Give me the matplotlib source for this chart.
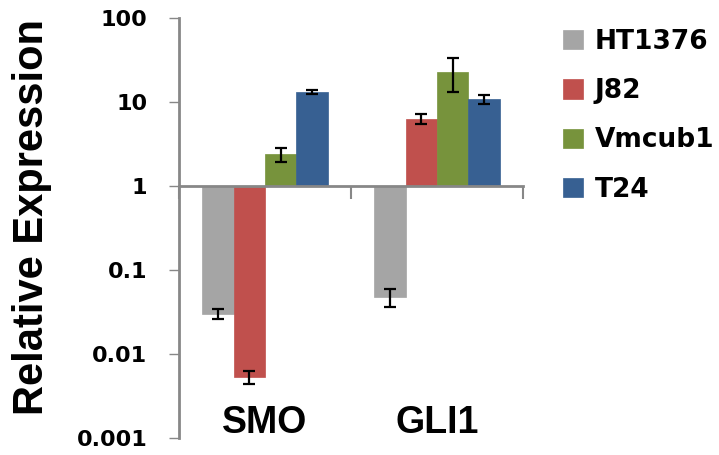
import numpy as np
import matplotlib
matplotlib.use('Agg')
import matplotlib.pyplot as plt
from matplotlib.transforms import blended_transform_factory
from matplotlib.ticker import FixedLocator, NullLocator, FixedFormatter

# data
genes = ['SMO', 'GLI1']
lines = ['HT1376', 'J82', 'Vmcub1', 'T24']
colors = ['#A5A5A5', '#C0504D', '#77933C', '#376092']
vals_ht1376 = [0.030, 0.048]
vals_j82 = [0.0053, 6.3]
vals_vmcub1 = [2.4, 23.0]
vals_t24 = [13.2, 10.8]
err_ht1376 = [0.004, 0.012]
err_j82 = [0.0009, 0.9]
err_vmcub1 = [0.45, 10.0]
err_t24 = [0.8, 1.4]
yticks = [0.001, 0.01, 0.1, 1, 10, 100]
ytick_labels = ['0.001', '0.01', '0.1', '1', '10', '100']

values = [vals_ht1376, vals_j82, vals_vmcub1, vals_t24]
errors = [err_ht1376, err_j82, err_vmcub1, err_t24]

fig = plt.figure(figsize=(7.19, 4.55), dpi=100)
ax = fig.add_axes([179/719., 1-438/455., (523-179)/719., (438-18)/455.])
ax.set_yscale('log')
ax.set_ylim(0.001, 100)
ax.set_xlim(0, 2)

w = 0.183
x = np.arange(len(genes)) + 0.5
for i in range(len(lines)):
    v = np.array(values[i])
    off = (i - 1.5) * w
    ax.bar(x + off, v - 1, bottom=1, width=w, color=colors[i],
           edgecolor=colors[i], linewidth=0.5, label=lines[i], zorder=2)
    ax.errorbar(x + off, v, yerr=errors[i], fmt='none', ecolor='black',
                elinewidth=1.6, capsize=4.5, capthick=1.6, zorder=3)

gray = '#878787'
for s in ['top', 'right']:
    ax.spines[s].set_visible(False)
ax.spines['left'].set_color(gray)
ax.spines['left'].set_linewidth(2)
ax.spines['bottom'].set_color(gray)
ax.spines['bottom'].set_linewidth(2)
ax.spines['bottom'].set_position(('data', 1))

ax.yaxis.set_major_locator(FixedLocator(yticks))
ax.yaxis.set_minor_locator(NullLocator())
ax.yaxis.set_major_formatter(FixedFormatter(ytick_labels))
ax.tick_params(axis='y', length=7.2, width=1, color=gray, pad=15.5,
               labelsize=16, labelfontfamily='DejaVu Sans')

ax.set_xticks([0, 1, 2])
ax.set_xticklabels(['', '', ''])
ax.tick_params(axis='x', length=9.5, width=1.5, color=gray, direction='out')

trans = blended_transform_factory(ax.transData, fig.transFigure)
for xi, g in zip(x, genes):
    ax.text(xi, 1-423/455., g, transform=trans, ha='center', va='center',
            fontsize=27, fontweight='bold', family='Liberation Sans')

fig.text(32/719., 1-217/455., 'Relative Expression', rotation=90,
         ha='center', va='center', fontsize=30, fontweight='bold',
         family='Liberation Sans')

leg = fig.legend(loc='upper left', bbox_to_anchor=(563/719., 1-29/455.),
                 frameon=False, prop={'family': 'DejaVu Sans', 'weight': 'bold', 'size': 19},
                 handlelength=0.75, handleheight=0.75, handletextpad=0.45,
                 labelspacing=0.88, borderpad=0, borderaxespad=0)

fig.canvas.draw()
for t in ax.get_yticklabels():
    t.set_fontweight('bold')

fig.savefig('out.png', dpi=100)
